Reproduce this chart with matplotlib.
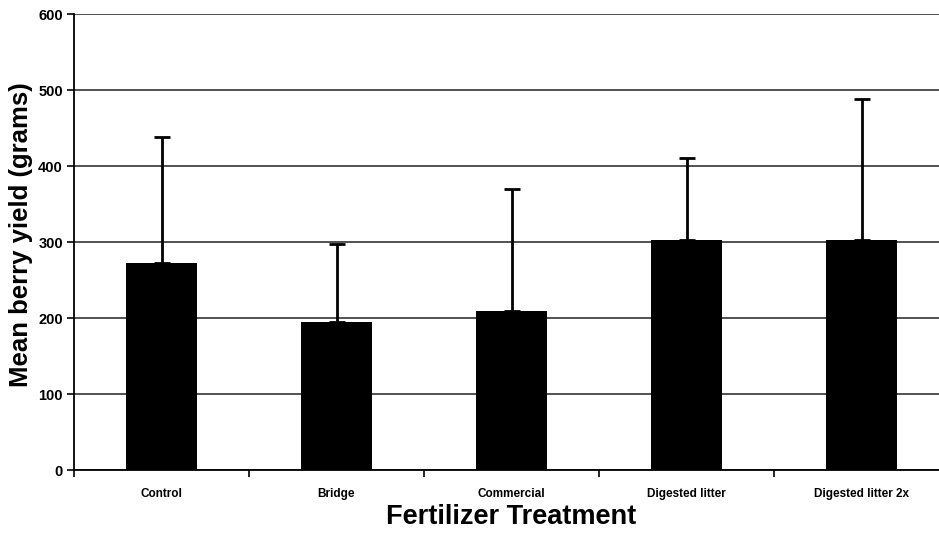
import matplotlib
matplotlib.use("Agg")
import matplotlib.pyplot as plt
from matplotlib import font_manager

treatments = ["Control", "Bridge", "Commercial", "Digested litter", "Digested litter 2x"]
mean_yield = [272, 195, 209, 303, 302]
upper_error = [166, 102, 161, 107, 186]

y_ticks = [0, 100, 200, 300, 400, 500, 600]

names = {f.name for f in font_manager.fontManager.ttflist}
narrow = "Liberation Sans Narrow" if "Liberation Sans Narrow" in names else "Liberation Sans"
plt.rcParams["font.family"] = ["Liberation Sans", "DejaVu Sans"]

W, H = 939, 533
fig = plt.figure(figsize=(W / 100, H / 100), dpi=100)
ax = fig.add_axes([74 / W, (H - 470) / H, 875 / W, 456 / H])

x = list(range(len(treatments)))
ax.bar(x, mean_yield, width=0.41, color="black", zorder=3)
ax.errorbar(x, mean_yield, yerr=[[0] * len(x), upper_error], fmt="none",
            ecolor="black", elinewidth=2, capsize=6, capthick=2, zorder=4)

ax.set_xlim(-0.5, len(treatments) - 0.5)
ax.set_ylim(0, 600)
ax.set_yticks(y_ticks)
ax.set_yticklabels([str(v) for v in y_ticks], fontsize=10.5, fontweight="bold")
ax.yaxis.grid(True, color="#222222", linewidth=1.1, zorder=0)

ax.set_xticks([i + 0.5 for i in range(-1, len(treatments))])
ax.set_xticklabels([])
ax.set_xticks(x, minor=True)
ax.set_xticklabels(treatments, minor=True, fontsize=8.5, fontweight="bold",
                   family=[narrow, "DejaVu Sans"])
ax.tick_params(axis="x", which="minor", length=0, pad=13)
ax.tick_params(axis="x", which="major", length=5, width=1.2, direction="out")
ax.tick_params(axis="y", length=5, width=1.2, direction="out", pad=3)

for side in ["top", "right"]:
    ax.spines[side].set_visible(False)
for side in ["left", "bottom"]:
    ax.spines[side].set_linewidth(1.3)

ax.set_ylabel("Mean berry yield (grams)", fontsize=18.5, fontweight="bold")
ax.yaxis.set_label_coords((33 - 74) / 875, (470 - 235) / 456)
fig.text(511 / W, 1 - 517 / H, "Fertilizer Treatment", fontsize=19.5, fontweight="bold",
         ha="center", va="center", family=[narrow, "DejaVu Sans"])

fig.savefig("out.png", dpi=100)
